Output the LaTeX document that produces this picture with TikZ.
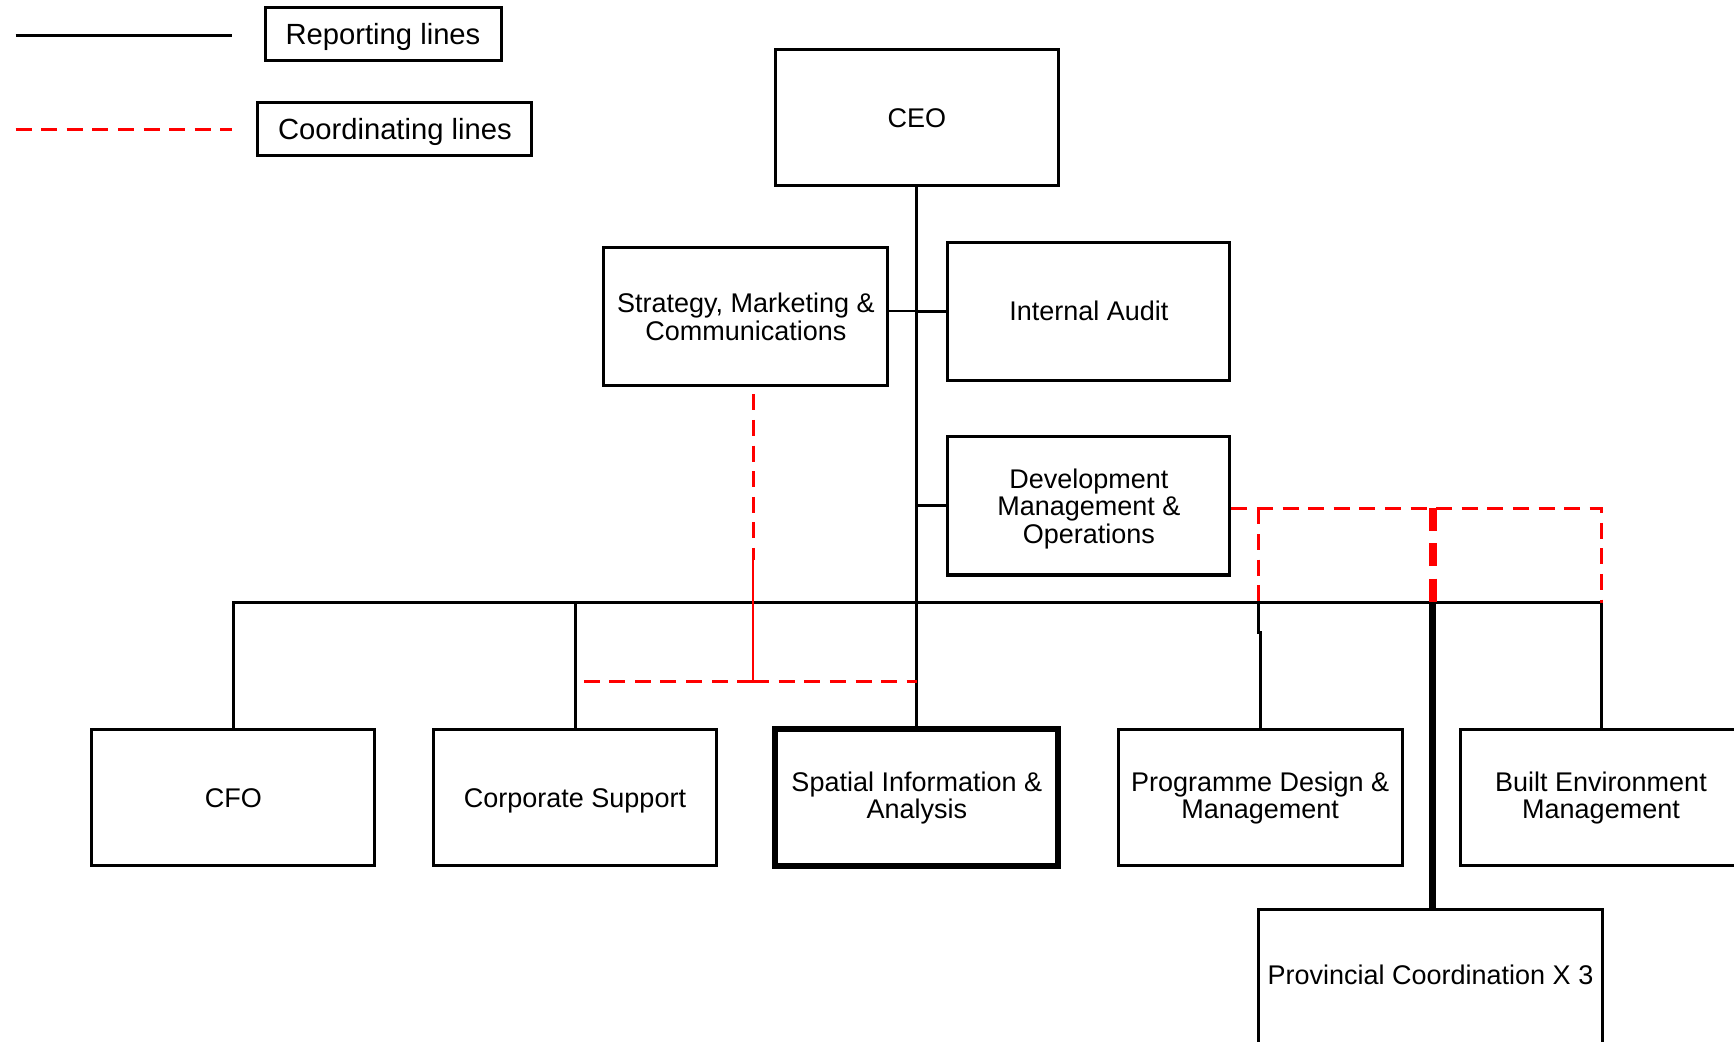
\documentclass[tikz,border=0pt]{standalone}
\usepackage{fontspec}
\setmainfont{Liberation Sans}
\begin{document}
\begin{tikzpicture}[x=0.5pt,y=-0.5pt,
  every node/.style={font=\fontsize{13.5}{13.8}\selectfont, align=center, inner sep=0pt},
  keytext/.style={font=\fontsize{14.6}{14}\selectfont, text depth=0pt},
  unit/.style={draw=black, line width=1.5pt, fill=white},
  keyunit/.style={draw=black, line width=3pt, fill=white},
  repline/.style={draw=black, line width=1.5pt},
  thinrep/.style={draw=black, line width=1pt},
  heavyrep/.style={draw=black, line width=3.5pt},
  coordline/.style={draw=red, line width=1.5pt, dash pattern=on 8pt off 4.8pt},
  heavycoord/.style={draw=red, line width=4pt, dash pattern=on 11.5pt off 6pt},
  solidcoord/.style={draw=red, line width=1pt}]
\clip (0,0) rectangle (1734,1042);
\fill[white] (0,0) rectangle (1734,1042);

% legend
\coordinate (kaL) at (15.5,36);
\coordinate (kaR) at (232,36);
\coordinate (kbL) at (15.5,129.4);
\coordinate (kbR) at (232,129.4);
\draw[repline] (kaL) -- (kaR);
\draw[coordline] (kbL) -- (kbR);
\node[unit, keytext, minimum width=118pt, minimum height=26.5pt] (rep) at (383,34.3) {Reporting lines};
\node[unit, keytext, minimum width=137pt, minimum height=26.6pt] (crd) at (394.9,129.4) {Coordinating lines};

% units
\node[unit, minimum width=141.5pt, minimum height=68pt] (ceo) at (916.8,117.8) {CEO};
\node[unit, minimum width=142pt, minimum height=69pt] (smc) at (745.9,316.9) {Strategy, Marketing \&\\Communications};
\node[unit, minimum width=141pt, minimum height=69pt] (ia) at (1088.8,311.3) {Internal Audit};
\node[unit, text depth=0pt, minimum width=141pt, minimum height=69pt] (dmo) at (1088.8,506) {Development\\Management \&\\Operations};

\node[unit, minimum width=141.5pt, minimum height=68pt] (cfo) at (233.4,797.9) {CFO};
\node[unit, text depth=0pt, minimum width=141.5pt, minimum height=68pt] (cs) at (575,797.9) {Corporate Support};
\node[keyunit, minimum width=141.5pt, minimum height=68.5pt] (sia) at (916.8,797.9) {Spatial Information \&\\Analysis};
\node[unit, minimum width=142pt, minimum height=68pt] (pdm) at (1260.2,797.9) {Programme Design \&\\Management};
\node[unit, minimum width=141pt, minimum height=68pt] (bem) at (1601,797.9) {Built Environment\\Management};
\node[unit, text depth=3.5pt, minimum width=172pt, minimum height=69.5pt] (pc) at (1430.5,978.5) {Provincial Coordination X 3};

% reporting lines
\coordinate (bus) at (0,602.7);
\coordinate (jog) at (0,632.6);
\draw[repline] (ceo.south) -- (sia.north);
\draw[thinrep] ([yshift=3pt]smc.east) -- ([yshift=3pt]smc.east -| ceo.south);
\draw[repline] (ia.west) -- (ia.west -| ceo.south);
\draw[repline] (dmo.west) -- (dmo.west -| ceo.south);
\draw[repline] (cfo.north) -- (cfo.north |- bus) -- (bem.north |- bus) -- (bem.north);
\draw[repline] (cs.north) -- (cs.north |- bus);
\draw[repline] ([xshift=-1pt]pdm.north |- bus) -- ([xshift=-1pt]pdm.north |- jog) -- (pdm.north |- jog) -- (pdm.north);
\draw[heavyrep] ([xshift=1.2pt]pc.north) -- ([xshift=1.2pt]pc.north |- bus);

% coordinating lines
\coordinate (sx) at (753.1,0);
\coordinate (sdash) at (0,560);
\coordinate (sturn) at (0,681);
\draw[coordline] ([yshift=-3.5pt]smc.south -| sx) -- (sx |- sdash);
\draw[solidcoord] (sx |- sdash) -- (sx |- sturn);
\draw[coordline] (sx |- sturn) -- (sturn -| sia.north);
\draw[coordline] (sx |- sturn) -- (sturn -| cs.north);

\coordinate (dy) at (0,508.5);
\draw[coordline] (dmo.east |- dy) -- (dy -| bem.north) -- (bem.north |- bus);
\draw[coordline] ([xshift=-1pt]dy -| pdm.north) -- ([xshift=-1pt]pdm.north |- bus);
\draw[heavycoord] ([xshift=1.2pt]dy -| pc.north) -- ([xshift=1.2pt]pc.north |- bus);
\end{tikzpicture}
\end{document}
